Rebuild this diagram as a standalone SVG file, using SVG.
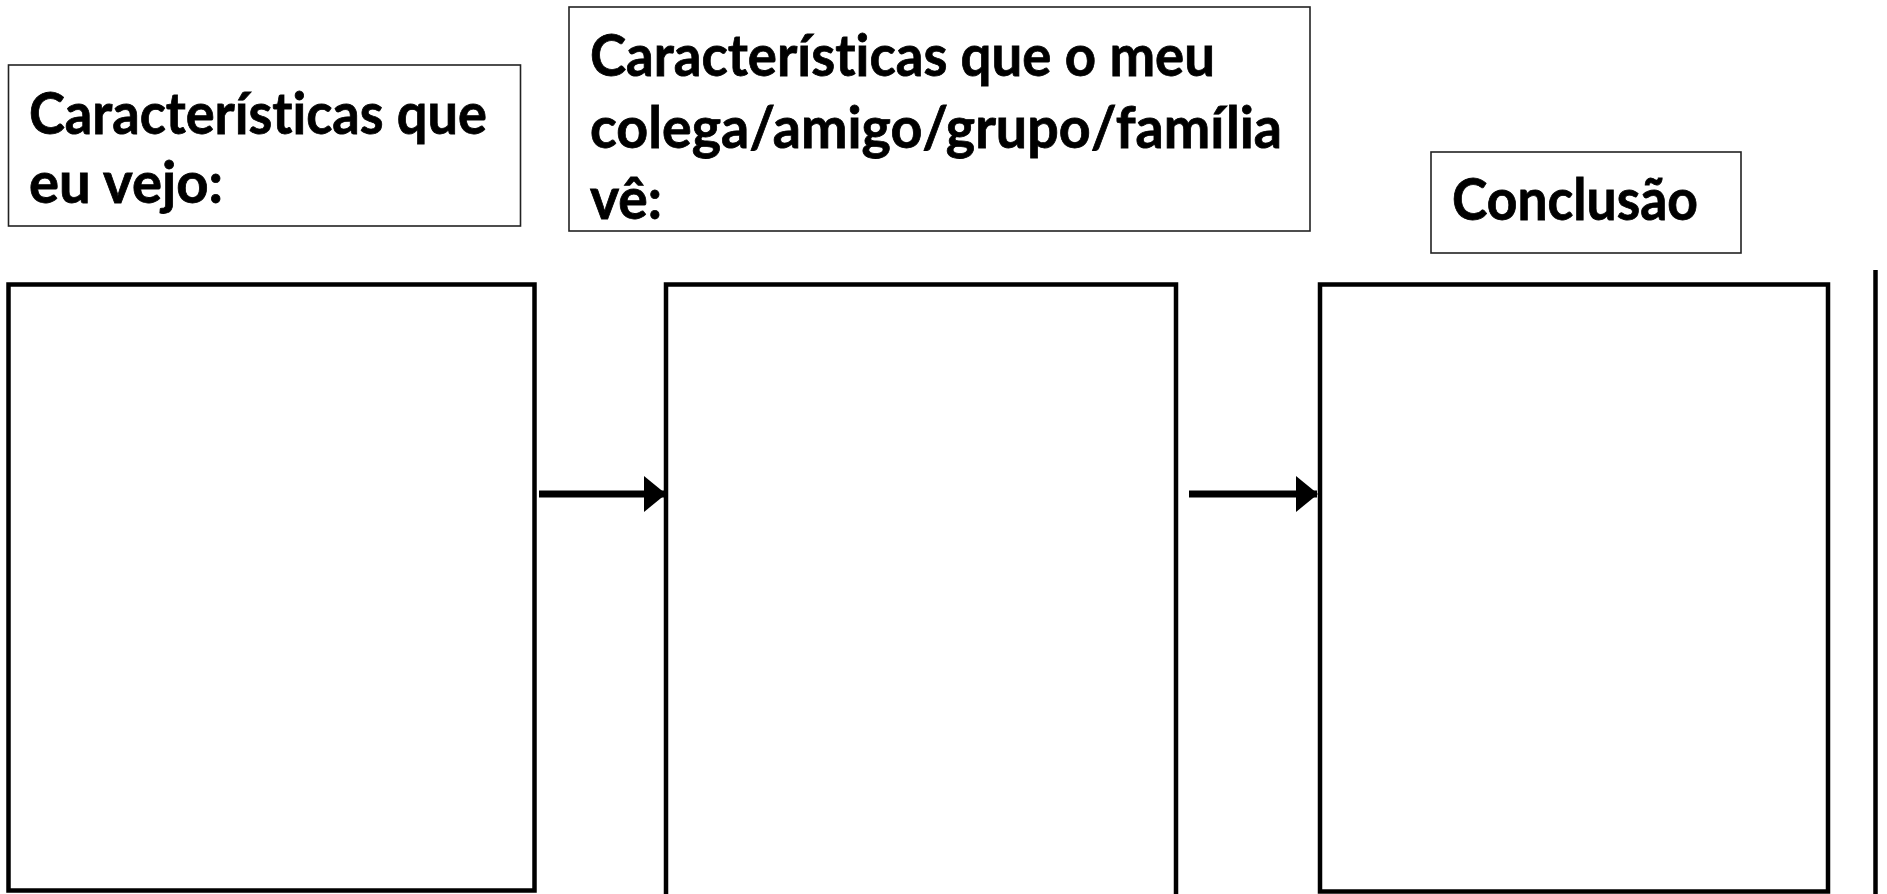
<svg xmlns="http://www.w3.org/2000/svg" width="1887" height="894" viewBox="0 0 1887 894">
<style>
.lbl{fill:#fff;stroke:#222;stroke-width:1.6}
.box{fill:#fff;stroke:#000;stroke-width:4.5}
.t{font-family:Lato,"Liberation Sans",sans-serif;font-weight:700;font-size:58px;fill:#000;font-variant-ligatures:none;stroke:#000;stroke-width:0.8}
.conn{stroke:#000;stroke-width:7;fill:none}
</style>
<defs>
<marker id="ah" markerUnits="userSpaceOnUse" markerWidth="22" markerHeight="36" refX="21" refY="18" orient="auto">
<path d="M0,0 L22,18 L0,36 Z" fill="#000"/>
</marker>
</defs>
<rect width="1887" height="894" fill="#fff"/>
<g id="label1">
<rect class="lbl" x="8.5" y="65" width="512" height="161"/>
<text class="t" x="29" y="134" textLength="458" lengthAdjust="spacingAndGlyphs">Características que</text>
<text class="t" x="29" y="203" textLength="194" lengthAdjust="spacingAndGlyphs">eu vejo:</text>
</g>
<g id="label2">
<rect class="lbl" x="569" y="7" width="741" height="224"/>
<text class="t" x="590" y="76" textLength="625" lengthAdjust="spacingAndGlyphs">Características que o meu</text>
<text class="t" x="590" y="148" textLength="692" lengthAdjust="spacingAndGlyphs">colega/amigo/grupo/família</text>
<text class="t" x="590" y="219" textLength="72" lengthAdjust="spacingAndGlyphs">vê:</text>
</g>
<g id="label3">
<rect class="lbl" x="1431" y="152" width="310" height="101"/>
<text class="t" x="1452" y="220" textLength="246" lengthAdjust="spacingAndGlyphs">Conclusão</text>
</g>
<g id="box1"><rect class="box" x="8.5" y="284.5" width="526" height="606"/></g>
<g id="box2"><rect class="box" x="666" y="284.5" width="510" height="620"/></g>
<g id="box3"><rect class="box" x="1320" y="284.5" width="508" height="607"/></g>
<g id="edge"><line x1="1875.5" y1="270" x2="1875.5" y2="894" stroke="#000" stroke-width="4.5"/></g>
<g id="connectors">
<line class="conn" x1="539" y1="494" x2="665" y2="494" marker-end="url(#ah)"/>
<line class="conn" x1="1189" y1="494" x2="1317" y2="494" marker-end="url(#ah)"/>
</g>
</svg>
